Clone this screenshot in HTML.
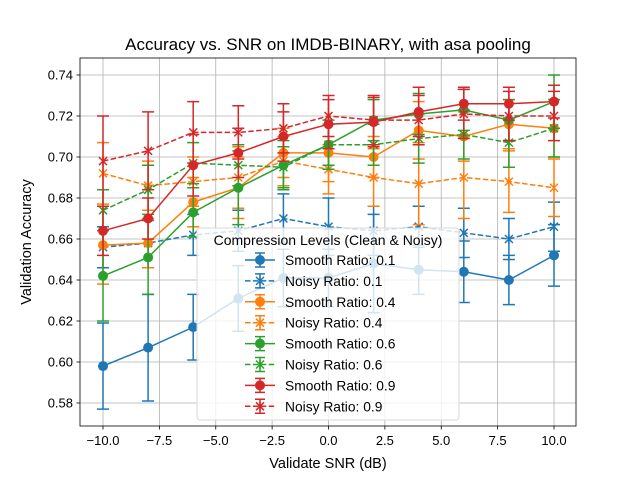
<!DOCTYPE html>
<html><head><meta charset="utf-8"><style>
body{margin:0;background:#fff}
svg{font-family:"Liberation Sans","DejaVu Sans",sans-serif}
</style></head><body>
<svg id="c" width="640" height="480" viewBox="0 0 640 480"></svg>
<script>
const xs=[-10,-8,-6,-4,-2,0,2,4,6,8,10];
const s01=[0.598,0.607,0.617,0.631,0.641,0.641,0.648,0.645,0.644,0.640,0.652];
const s01e=[0.021,0.026,0.016,0.016,0.014,0.014,0.024,0.012,0.015,0.012,0.015];
const n01=[0.656,0.658,0.662,0.664,0.670,0.666,0.664,0.666,0.663,0.660,0.666];
const n01e=[0.010,0.012,0.010,0.010,0.012,0.014,0.012,0.010,0.012,0.010,0.012];
const s04=[0.657,0.658,0.678,0.685,0.702,0.702,0.700,0.713,0.710,0.716,0.714];
const s04e=[0.019,0.012,0.012,0.015,0.012,0.014,0.010,0.014,0.012,0.012,0.014];
const n04=[0.692,0.686,0.688,0.690,0.698,0.694,0.690,0.687,0.690,0.688,0.685];
const n04e=[0.015,0.012,0.012,0.015,0.012,0.012,0.014,0.020,0.020,0.015,0.014];
const s06=[0.642,0.651,0.673,0.685,0.696,0.706,0.718,0.721,0.723,0.718,0.727];
const s06e=[0.022,0.018,0.012,0.018,0.012,0.012,0.010,0.010,0.010,0.010,0.013];
const n06=[0.674,0.684,0.697,0.696,0.695,0.706,0.706,0.709,0.711,0.707,0.714];
const n06e=[0.010,0.012,0.010,0.010,0.010,0.010,0.010,0.012,0.012,0.012,0.014];
const s09=[0.664,0.670,0.696,0.702,0.710,0.716,0.717,0.722,0.726,0.726,0.727];
const s09e=[0.012,0.010,0.015,0.012,0.012,0.012,0.012,0.012,0.008,0.008,0.008];
const n09=[0.698,0.703,0.712,0.712,0.714,0.720,0.718,0.718,0.721,0.720,0.720];
const n09e=[0.022,0.019,0.015,0.013,0.012,0.010,0.012,0.012,0.012,0.012,0.012];
const xTicks=[-10,-7.5,-5,-2.5,0,2.5,5,7.5,10];
const xTickLabels=["−10.0","−7.5","−5.0","−2.5","0.0","2.5","5.0","7.5","10.0"];
const yTicks=[0.58,0.60,0.62,0.64,0.66,0.68,0.70,0.72,0.74];
const yTickLabels=["0.58","0.60","0.62","0.64","0.66","0.68","0.70","0.72","0.74"];
const series=[
 {name:"Smooth Ratio: 0.1",y:s01,e:s01e,c:"#1f77b4",dash:false},
 {name:"Noisy Ratio: 0.1",y:n01,e:n01e,c:"#1f77b4",dash:true},
 {name:"Smooth Ratio: 0.4",y:s04,e:s04e,c:"#ff7f0e",dash:false},
 {name:"Noisy Ratio: 0.4",y:n04,e:n04e,c:"#ff7f0e",dash:true},
 {name:"Smooth Ratio: 0.6",y:s06,e:s06e,c:"#2ca02c",dash:false},
 {name:"Noisy Ratio: 0.6",y:n06,e:n06e,c:"#2ca02c",dash:true},
 {name:"Smooth Ratio: 0.9",y:s09,e:s09e,c:"#d62728",dash:false},
 {name:"Noisy Ratio: 0.9",y:n09,e:n09e,c:"#d62728",dash:true}];
const L=80,R=576,T=58,B=426;
const X=v=>103+(v+10)*22.55;
const Y=v=>75+(0.74-v)*2050;
const svg=document.getElementById('c');
const NS="http://www.w3.org/2000/svg";
function mk(t,a,p){const e=document.createElementNS(NS,t);for(const k in a)e.setAttribute(k,a[k]);(p||svg).appendChild(e);return e;}
xTicks.forEach((t,i)=>{
 const g=mk('line',{x1:X(t),x2:X(t),y1:T,y2:B,stroke:'#b0b0b0','stroke-width':0.8});
 
 
 mk('line',{x1:X(t),x2:X(t),y1:B,y2:B+3.5,stroke:'#000','stroke-width':0.8});
 const tx=mk('text',{x:X(t),y:B+19,'font-size':13,'text-anchor':'middle'});tx.textContent=xTickLabels[i];
 
 
});
yTicks.forEach((t,i)=>{
 const g=mk('line',{x1:L,x2:R,y1:Y(t),y2:Y(t),stroke:'#b0b0b0','stroke-width':0.8});
 
 
 mk('line',{x1:L-3.5,x2:L,y1:Y(t),y2:Y(t),stroke:'#000','stroke-width':0.8});
 const tx=mk('text',{x:L-7,y:Y(t)+4.5,'font-size':13,'text-anchor':'end'});tx.textContent=yTickLabels[i];
 
 
});
function marker(g,x,y,s,c){
 if(s.dash){mk('path',{d:`M${x-4},${y-4}L${x+4},${y+4}M${x-4},${y+4}L${x+4},${y-4}M${x},${y-4.5}L${x},${y+4.5}`,stroke:c,'stroke-width':1.5,fill:'none'},g);}
 else mk('circle',{cx:x,cy:y,r:5,fill:c},g);
}
series.forEach(s=>{
 const g=mk('g',{});
 
 
 xs.forEach((x,i)=>{
  const px=X(x),y1=Y(s.y[i]+s.e[i]),y2=Y(s.y[i]-s.e[i]);
  mk('path',{d:`M${px},${y1}L${px},${y2}M${px-6},${y1}L${px+6},${y1}M${px-6},${y2}L${px+6},${y2}`,stroke:s.c,'stroke-width':1.5,fill:'none'},g);
 });
 const d=xs.map((x,i)=>(i?'L':'M')+X(x)+','+Y(s.y[i])).join('');
 const a={d:d,stroke:s.c,'stroke-width':1.5,fill:'none'};if(s.dash)a['stroke-dasharray']='5.5,2.4';
 mk('path',a,g);
 xs.forEach((x,i)=>marker(g,X(x),Y(s.y[i]),s,s.c));
});
const fr=mk('rect',{x:L,y:T,width:R-L,height:B-T,fill:'none',stroke:'#000','stroke-width':0.8});


const lg=mk('g',{});


mk('rect',{x:197,y:228,width:262,height:192,rx:3,fill:'#fff','fill-opacity':0.8,stroke:'#d9d9d9'},lg);
const lt=mk('text',{x:328,y:245,'font-size':14,'text-anchor':'middle'},lg);lt.textContent="Compression Levels (Clean & Noisy)";
series.forEach((s,i)=>{
 const y=260+i*20.9;
 const e=mk('g',{},lg);
 
 
 const a={x1:245,x2:275,y1:y,y2:y,stroke:s.c,'stroke-width':1.5};if(s.dash)a['stroke-dasharray']='5.5,2.4';
 mk('line',a,e);
 mk('path',{d:`M260,${y-7}L260,${y+7}M255,${y-7}L265,${y-7}M255,${y+7}L265,${y+7}`,stroke:s.c,'stroke-width':1.5},e);
 marker(e,260,y,s,s.c);
 const t=mk('text',{x:285,y:y+5,'font-size':13.8},e);t.textContent=s.name;
});
const ti=mk('text',{x:328,y:50,'font-size':17,'text-anchor':'middle'});ti.textContent="Accuracy vs. SNR on IMDB-BINARY, with asa pooling";


const xl=mk('text',{x:328,y:468,'font-size':14.5,'text-anchor':'middle'});xl.textContent="Validate SNR (dB)";


const yl=mk('text',{x:31,y:242,'font-size':14.5,'text-anchor':'middle',transform:'rotate(-90 31 242)'});yl.textContent="Validation Accuracy";


</script>
</body></html>
